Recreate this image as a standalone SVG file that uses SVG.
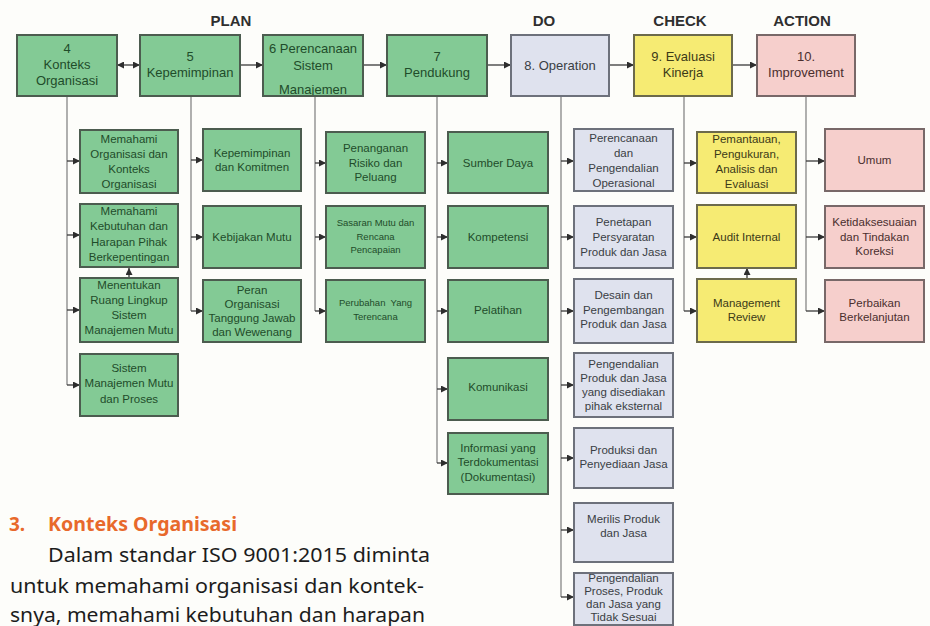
<svg xmlns="http://www.w3.org/2000/svg" width="930" height="626" viewBox="0 0 930 626">
  <defs>
    <marker id="arr" viewBox="0 0 8 8" markerWidth="7" markerHeight="7" refX="8" refY="4" markerUnits="userSpaceOnUse" orient="auto-start-reverse">
      <path d="M0,0 L8,4 L0,8 z" fill="#2e2e2e"/>
    </marker>
    <style>
      .bx { stroke-width: 2; }
      .g { fill: #83ca95; stroke: #4c5c4f; }
      .b { fill: #dfe2ee; stroke: #6d717b; }
      .y { fill: #f6eb73; stroke: #6c6a4b; }
      .p { fill: #f6cfcc; stroke: #786868; }
      .edge { fill: none; stroke: #4c5c4f; stroke-width: 2; }
      text { font-family: "Liberation Sans", Arial, sans-serif; text-anchor: middle; }
      .top { font-size: 13px; }
      .sm { font-size: 11.5px; }
      .xs { font-size: 9.5px; }
      .tg { fill: #1f4c2a; }
      .tb { fill: #3a3e44; }
      .ty { fill: #3c3a18; }
      .tp { fill: #4a2e2e; }
      .phase { font-size: 15px; font-weight: bold; fill: #2f2f2f; }
      .vline { fill: none; stroke: #7c7c7c; stroke-width: 1.2; }
      .br { fill: none; stroke: #3a3a3a; stroke-width: 1.3; marker-end: url(#arr); }
      .hd { font-family: "Noto Sans", "Open Sans", sans-serif; text-anchor: start; font-weight: bold; font-size: 19px; fill: #e8692b; }
      .body { font-family: "Noto Sans", "Open Sans", sans-serif; text-anchor: start; font-size: 20px; fill: #1c1c1c; }
    </style>
  </defs>

  <rect width="930" height="626" fill="#fdfdfa"/>

  <!-- phase headings -->
  <text class="phase" x="231" y="26">PLAN</text>
  <text class="phase" x="544" y="26">DO</text>
  <text class="phase" x="680" y="26">CHECK</text>
  <text class="phase" x="802" y="26">ACTION</text>

  <!-- connectors -->
  <g id="connectors">
    <!-- main clause chain -->
    <line class="br" x1="117" y1="65" x2="140" y2="65" marker-start="url(#arr)"/>
    <line class="br" x1="240" y1="65" x2="263" y2="65"/>
    <line class="br" x1="363" y1="65" x2="387" y2="65"/>
    <line class="br" x1="487" y1="65" x2="511" y2="65"/>
    <line class="br" x1="609" y1="65" x2="634" y2="65"/>
    <line class="br" x1="732" y1="65" x2="757" y2="65"/>

    <!-- clause 4 -->
    <path class="vline" d="M67,97 V385"/>
    <path class="br" d="M67,161 H80"/>
    <path class="br" d="M67,235 H80"/>
    <path class="br" d="M67,310 H80"/>
    <path class="br" d="M67,385 H80"/>
    <path class="br" d="M129,278 V268"/>

    <!-- clause 5 -->
    <path class="vline" d="M191,97 V311"/>
    <path class="br" d="M191,160 H203"/>
    <path class="br" d="M191,237 H203"/>
    <path class="br" d="M191,311 H203"/>

    <!-- clause 6 -->
    <path class="vline" d="M315,97 V311"/>
    <path class="br" d="M315,163 H326"/>
    <path class="br" d="M315,237 H326"/>
    <path class="br" d="M315,311 H326"/>

    <!-- clause 7 -->
    <path class="vline" d="M437,97 V463"/>
    <path class="br" d="M437,163 H448"/>
    <path class="br" d="M437,237 H448"/>
    <path class="br" d="M437,311 H448"/>
    <path class="br" d="M437,389 H448"/>
    <path class="br" d="M437,463 H448"/>

    <!-- clause 8 -->
    <path class="vline" d="M561,97 V597"/>
    <path class="br" d="M561,161 H574"/>
    <path class="br" d="M561,237 H574"/>
    <path class="br" d="M561,311 H574"/>
    <path class="br" d="M561,385 H574"/>
    <path class="br" d="M561,458 H574"/>
    <path class="br" d="M561,530 H574"/>
    <path class="br" d="M561,597 H574"/>

    <!-- clause 9 -->
    <path class="vline" d="M684,97 V311"/>
    <path class="br" d="M684,163 H697"/>
    <path class="br" d="M684,237 H697"/>
    <path class="br" d="M684,311 H697"/>
    <path class="br" d="M747,279 V268"/>

    <!-- clause 10 -->
    <path class="vline" d="M806,97 V311"/>
    <path class="br" d="M806,161 H825"/>
    <path class="br" d="M806,237 H825"/>
    <path class="br" d="M806,311 H825"/>
  </g>

  <!-- main clauses -->
  <g id="c4">
    <rect class="bx g" x="17" y="35" width="100" height="61"/>
    <text class="top tg" x="67" y="53">4</text>
    <text class="top tg" x="67" y="69">Konteks</text>
    <text class="top tg" x="67" y="85">Organisasi</text>
  </g>
  <g id="c5">
    <rect class="bx g" x="140" y="35" width="100" height="61"/>
    <text class="top tg" x="190" y="61">5</text>
    <text class="top tg" x="190" y="77">Kepemimpinan</text>
  </g>
  <g id="c6">
    <rect class="bx g" x="263" y="35" width="100" height="61"/>
    <text class="top tg" x="313" y="53">6 Perencanaan</text>
    <text class="top tg" x="313" y="70">Sistem</text>
    <text class="top tg" x="313" y="94">Manajemen</text>
    <!-- border redrawn over the overflowing last line -->
    <rect class="edge" x="263" y="35" width="100" height="61"/>
  </g>
  <g id="c7">
    <rect class="bx g" x="387" y="35" width="100" height="61"/>
    <text class="top tg" x="437" y="61">7</text>
    <text class="top tg" x="437" y="77">Pendukung</text>
  </g>
  <g id="c8">
    <rect class="bx b" x="511" y="35" width="98" height="61"/>
    <text class="top tb" x="560" y="70">8. Operation</text>
  </g>
  <g id="c9">
    <rect class="bx y" x="634" y="35" width="98" height="61"/>
    <text class="top ty" x="683" y="61">9. Evaluasi</text>
    <text class="top ty" x="683" y="77">Kinerja</text>
  </g>
  <g id="c10">
    <rect class="bx p" x="757" y="35" width="98" height="61"/>
    <text class="top tp" x="806" y="61">10.</text>
    <text class="top tp" x="806" y="77">Improvement</text>
  </g>

  <!-- clause 4 items -->
  <g id="n4a">
    <rect class="bx g" x="80" y="130" width="98" height="63"/>
    <text class="sm tg" x="129" y="143">Memahami</text>
    <text class="sm tg" x="129" y="158">Organisasi dan</text>
    <text class="sm tg" x="129" y="173">Konteks</text>
    <text class="sm tg" x="129" y="188">Organisasi</text>
  </g>
  <g id="n4b">
    <rect class="bx g" x="80" y="204" width="98" height="63"/>
    <text class="sm tg" x="129" y="215">Memahami</text>
    <text class="sm tg" x="129" y="230">Kebutuhan dan</text>
    <text class="sm tg" x="129" y="246">Harapan Pihak</text>
    <text class="sm tg" x="129" y="261">Berkepentingan</text>
  </g>
  <g id="n4c">
    <rect class="bx g" x="80" y="278" width="98" height="64"/>
    <text class="sm tg" x="129" y="289">Menentukan</text>
    <text class="sm tg" x="129" y="304">Ruang Lingkup</text>
    <text class="sm tg" x="129" y="319">Sistem</text>
    <text class="sm tg" x="129" y="334">Manajemen Mutu</text>
  </g>
  <g id="n4d">
    <rect class="bx g" x="80" y="354" width="98" height="62"/>
    <text class="sm tg" x="129" y="372">Sistem</text>
    <text class="sm tg" x="129" y="387">Manajemen Mutu</text>
    <text class="sm tg" x="129" y="403">dan Proses</text>
  </g>

  <!-- clause 5 items -->
  <g id="n5a">
    <rect class="bx g" x="203" y="129" width="98" height="62"/>
    <text class="sm tg" x="252" y="157">Kepemimpinan</text>
    <text class="sm tg" x="252" y="171">dan Komitmen</text>
  </g>
  <g id="n5b">
    <rect class="bx g" x="203" y="206" width="98" height="62"/>
    <text class="sm tg" x="252" y="241">Kebijakan Mutu</text>
  </g>
  <g id="n5c">
    <rect class="bx g" x="203" y="280" width="98" height="62"/>
    <text class="sm tg" x="252" y="294">Peran</text>
    <text class="sm tg" x="252" y="308">Organisasi</text>
    <text class="sm tg" x="252" y="322">Tanggung Jawab</text>
    <text class="sm tg" x="252" y="336">dan Wewenang</text>
  </g>

  <!-- clause 6 items -->
  <g id="n6a">
    <rect class="bx g" x="326" y="132" width="99" height="61"/>
    <text class="sm tg" x="375.5" y="152">Penanganan</text>
    <text class="sm tg" x="375.5" y="167">Risiko dan</text>
    <text class="sm tg" x="375.5" y="181">Peluang</text>
  </g>
  <g id="n6b">
    <rect class="bx g" x="326" y="206" width="99" height="62"/>
    <text class="xs tg" x="375.5" y="226">Sasaran Mutu dan</text>
    <text class="xs tg" x="375.5" y="240">Rencana</text>
    <text class="xs tg" x="375.5" y="253">Pencapaian</text>
  </g>
  <g id="n6c">
    <rect class="bx g" x="326" y="280" width="99" height="62"/>
    <text class="xs tg" x="375.5" y="306" xml:space="preserve">Perubahan  Yang</text>
    <text class="xs tg" x="375.5" y="320">Terencana</text>
  </g>

  <!-- clause 7 items -->
  <g id="n7a">
    <rect class="bx g" x="448" y="132" width="100" height="61"/>
    <text class="sm tg" x="498" y="167">Sumber Daya</text>
  </g>
  <g id="n7b">
    <rect class="bx g" x="448" y="206" width="100" height="62"/>
    <text class="sm tg" x="498" y="241">Kompetensi</text>
  </g>
  <g id="n7c">
    <rect class="bx g" x="448" y="280" width="100" height="62"/>
    <text class="sm tg" x="498" y="314">Pelatihan</text>
  </g>
  <g id="n7d">
    <rect class="bx g" x="448" y="358" width="100" height="62"/>
    <text class="sm tg" x="498" y="391">Komunikasi</text>
  </g>
  <g id="n7e">
    <rect class="bx g" x="448" y="433" width="100" height="61"/>
    <text class="sm tg" x="498" y="452">Informasi yang</text>
    <text class="sm tg" x="498" y="466">Terdokumentasi</text>
    <text class="sm tg" x="498" y="481">(Dokumentasi)</text>
  </g>

  <!-- clause 8 items -->
  <g id="n8a">
    <rect class="bx b" x="574" y="129" width="99" height="62"/>
    <text class="sm tb" x="623.5" y="142">Perencanaan</text>
    <text class="sm tb" x="623.5" y="157">dan</text>
    <text class="sm tb" x="623.5" y="172">Pengendalian</text>
    <text class="sm tb" x="623.5" y="187">Operasional</text>
  </g>
  <g id="n8b">
    <rect class="bx b" x="574" y="206" width="99" height="62"/>
    <text class="sm tb" x="623.5" y="226">Penetapan</text>
    <text class="sm tb" x="623.5" y="241">Persyaratan</text>
    <text class="sm tb" x="623.5" y="256">Produk dan Jasa</text>
  </g>
  <g id="n8c">
    <rect class="bx b" x="574" y="279" width="99" height="64"/>
    <text class="sm tb" x="623.5" y="299">Desain dan</text>
    <text class="sm tb" x="623.5" y="314">Pengembangan</text>
    <text class="sm tb" x="623.5" y="328">Produk dan Jasa</text>
  </g>
  <g id="n8d">
    <rect class="bx b" x="574" y="353" width="99" height="64"/>
    <text class="sm tb" x="623.5" y="368">Pengendalian</text>
    <text class="sm tb" x="623.5" y="382">Produk dan Jasa</text>
    <text class="sm tb" x="623.5" y="396">yang disediakan</text>
    <text class="sm tb" x="623.5" y="410">pihak eksternal</text>
  </g>
  <g id="n8e">
    <rect class="bx b" x="574" y="428" width="99" height="60"/>
    <text class="sm tb" x="623.5" y="454">Produksi dan</text>
    <text class="sm tb" x="623.5" y="468">Penyediaan Jasa</text>
  </g>
  <g id="n8f">
    <rect class="bx b" x="574" y="503" width="99" height="59"/>
    <text class="sm tb" x="623.5" y="523">Merilis Produk</text>
    <text class="sm tb" x="623.5" y="537">dan Jasa</text>
  </g>
  <g id="n8g">
    <rect class="bx b" x="574" y="573" width="99" height="52"/>
    <text class="sm tb" x="623.5" y="582">Pengendalian</text>
    <text class="sm tb" x="623.5" y="595">Proses, Produk</text>
    <text class="sm tb" x="623.5" y="608">dan Jasa yang</text>
    <text class="sm tb" x="623.5" y="621">Tidak Sesuai</text>
  </g>

  <!-- clause 9 items -->
  <g id="n9a">
    <rect class="bx y" x="697" y="132" width="99" height="61"/>
    <text class="sm ty" x="746.5" y="143">Pemantauan,</text>
    <text class="sm ty" x="746.5" y="158">Pengukuran,</text>
    <text class="sm ty" x="746.5" y="173">Analisis dan</text>
    <text class="sm ty" x="746.5" y="188">Evaluasi</text>
  </g>
  <g id="n9b">
    <rect class="bx y" x="697" y="205" width="99" height="63"/>
    <text class="sm ty" x="746.5" y="241">Audit Internal</text>
  </g>
  <g id="n9c">
    <rect class="bx y" x="697" y="279" width="99" height="63"/>
    <text class="sm ty" x="746.5" y="307">Management</text>
    <text class="sm ty" x="746.5" y="321">Review</text>
  </g>

  <!-- clause 10 items -->
  <g id="n10a">
    <rect class="bx p" x="825" y="129" width="99" height="62"/>
    <text class="sm tp" x="874.5" y="164">Umum</text>
  </g>
  <g id="n10b">
    <rect class="bx p" x="825" y="206" width="99" height="62"/>
    <text class="sm tp" x="874.5" y="226">Ketidaksesuaian</text>
    <text class="sm tp" x="874.5" y="241">dan Tindakan</text>
    <text class="sm tp" x="874.5" y="255">Koreksi</text>
  </g>
  <g id="n10c">
    <rect class="bx p" x="825" y="280" width="99" height="62"/>
    <text class="sm tp" x="874.5" y="307">Perbaikan</text>
    <text class="sm tp" x="874.5" y="321">Berkelanjutan</text>
  </g>

  <!-- body text -->
  <text class="hd" x="9" y="531">3.</text>
  <text class="hd" x="48" y="531" textLength="189" lengthAdjust="spacingAndGlyphs">Konteks Organisasi</text>
  <text class="body" x="48" y="562" textLength="382" lengthAdjust="spacingAndGlyphs">Dalam standar ISO 9001:2015 diminta</text>
  <text class="body" x="10" y="593" textLength="414" lengthAdjust="spacingAndGlyphs">untuk memahami organisasi dan kontek-</text>
  <text class="body" x="10" y="622" textLength="415" lengthAdjust="spacingAndGlyphs">snya, memahami kebutuhan dan harapan</text>
</svg>
